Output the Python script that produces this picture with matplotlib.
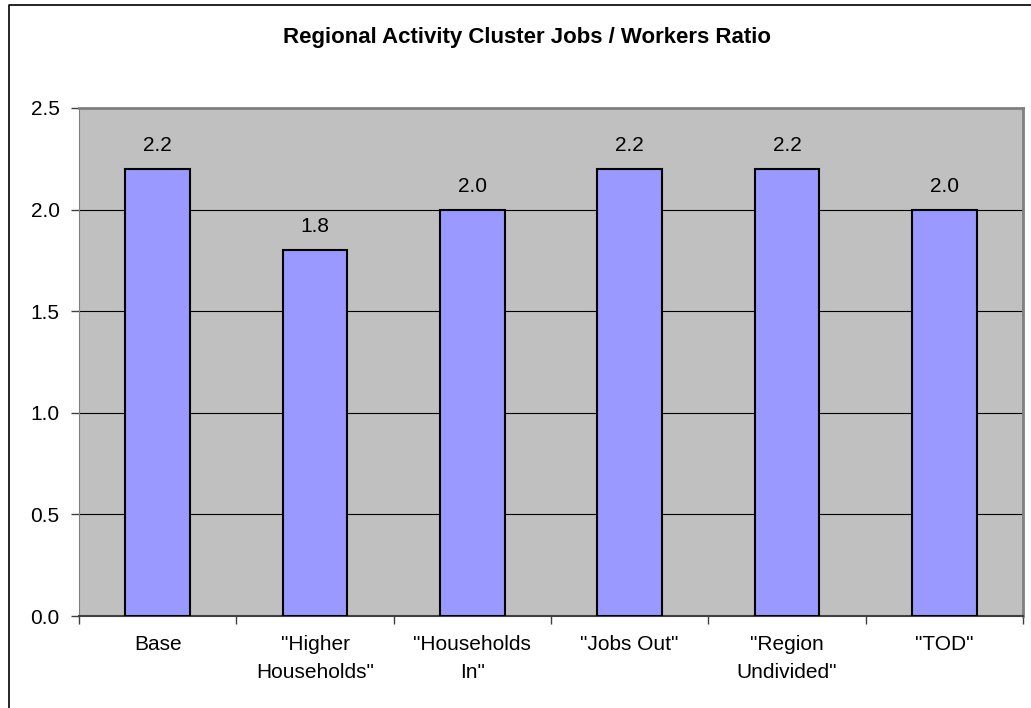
import matplotlib
matplotlib.use('Agg')
import matplotlib.pyplot as plt
from matplotlib.lines import Line2D

plt.rcParams['font.family'] = ['Liberation Sans', 'DejaVu Sans']

# scenario labels and jobs/workers ratio per scenario
scenarios = ['Base', '"Higher\nHouseholds"', '"Households\nIn"', '"Jobs Out"',
             '"Region\nUndivided"', '"TOD"']
ratios = [2.2, 1.8, 2.0, 2.2, 2.2, 2.0]
y_ticks = [0.0, 0.5, 1.0, 1.5, 2.0, 2.5]

W, H = 1031, 708
fig = plt.figure(figsize=(W / 100, H / 100), dpi=100)
ax = fig.add_axes([79 / W, 1 - 616 / H, (1023 - 79) / W, (616 - 108) / H])
ax.set_facecolor('#C0C0C0')

x = list(range(len(scenarios)))
ax.bar(x, ratios, width=0.41, color='#9999FF', edgecolor='black', linewidth=1.5, zorder=3)
for xi, v in zip(x, ratios):
    ax.annotate(f'{v:.1f}', (xi, v), xytext=(0, 10), textcoords='offset points',
                ha='center', va='bottom', fontsize=15)

ax.set_xlim(-0.5, len(scenarios) - 0.5)
ax.set_ylim(0, 2.5)
ax.set_yticks(y_ticks)
ax.set_yticklabels([f'{t:.1f}' for t in y_ticks])
ax.yaxis.grid(True, color='black', linewidth=0.8, zorder=1)
ax.set_axisbelow(True)

# category boundaries carry the x ticks, labels sit between them
ax.set_xticks([i - 0.5 for i in range(len(scenarios) + 1)])
ax.set_xticklabels([])
ax.set_xticks(x, minor=True)
ax.set_xticklabels(scenarios, minor=True, fontsize=15, linespacing=1.6)
ax.tick_params(axis='x', which='minor', length=0, pad=14)
ax.tick_params(axis='x', which='major', length=6, width=1, color='#404040', direction='out')
ax.tick_params(axis='y', length=6, width=1, color='#404040', labelsize=15, pad=8)

for side in ['top', 'right']:
    ax.spines[side].set_color('#808080')
    ax.spines[side].set_linewidth(2)
ax.spines['left'].set_color('#808080')
ax.spines['bottom'].set_color('#404040')
ax.spines['bottom'].set_linewidth(1.5)

fig.text(527 / W, 1 - 37 / H, 'Regional Activity Cluster Jobs / Workers Ratio',
         ha='center', va='center', fontsize=16, fontweight='bold')

# chart frame (top and left edges)
fig.add_artist(Line2D([9 / W, 9 / W, 1.0], [0.0, 1 - 5 / H, 1 - 5 / H],
                      transform=fig.transFigure, color='black', linewidth=1.2))

fig.savefig('out.png', dpi=100)
